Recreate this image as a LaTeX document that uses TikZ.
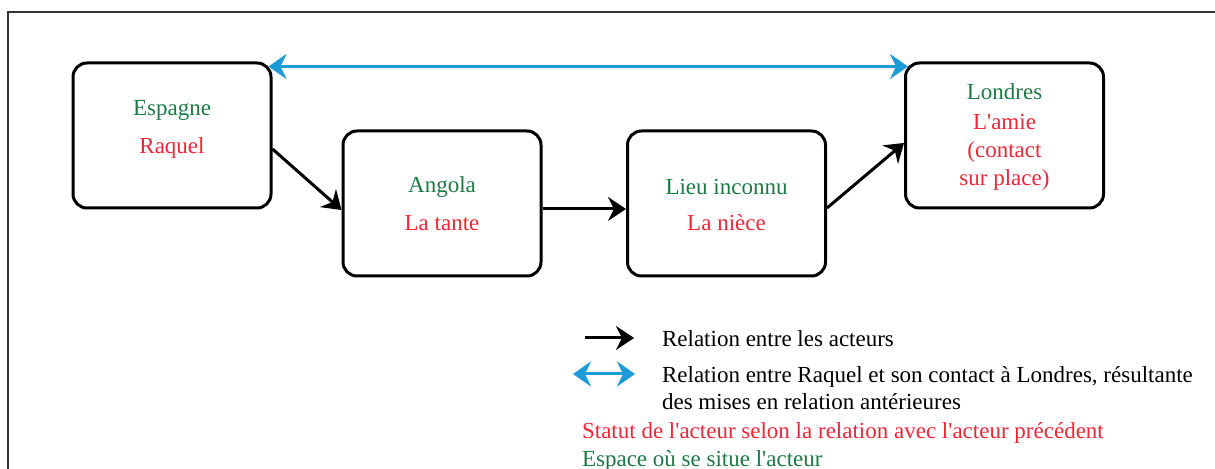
\documentclass[tikz,border=0pt]{standalone}
\usepackage{fontspec}
\setmainfont{Liberation Serif}
\usepackage{tikz}
\usetikzlibrary{arrows.meta}
\definecolor{placegreen}{HTML}{1B7A43}
\definecolor{rolered}{HTML}{EE2636}
\definecolor{linkblue}{HTML}{1B9BD7}
\definecolor{framegray}{HTML}{333333}

\tikzset{
  actorbox/.style={draw, line width=1.5pt, rounded corners=7pt,
    minimum width=99pt, minimum height=72.5pt, inner sep=0pt},
  place/.style={text=placegreen, font=\fontsize{11.5}{14}\selectfont},
  role/.style={text=rolered, font=\fontsize{11.5}{14}\selectfont, align=center},
  legendtext/.style={anchor=west, font=\fontsize{11.5}{13.5}\selectfont, align=left},
  rel/.style={line width=1.5pt, -{Stealth[length=9pt, width=12pt, inset=3pt]}},
  contact/.style={draw=linkblue, line width=1.5pt,
    {Stealth[length=9pt, width=12.5pt, inset=3pt]}-{Stealth[length=9pt, width=12.5pt, inset=3pt]}}
}
\newcommand{\q}{\textquotesingle}

\begin{document}
\begin{tikzpicture}[x=0.5pt, y=-0.5pt]
  \useasboundingbox (0,0) rectangle (1215,469);
  \draw[framegray, line width=0.8pt] (1240,12) -- (8,12) -- (8,490);

  % actors
  \node[actorbox] (esp) at (172,135.5) {};
  \node[actorbox] (ang) at (442,203.5) {};
  \node[actorbox] (lieu) at (726.5,203.5) {};
  \node[actorbox] (lon) at (1004.5,135.5) {};

  \node[place] (espP) at (172,110) {Espagne};
  \node[role] (espR) at (172,148) {Raquel};
  \node[place] (angP) at (442,187) {Angola};
  \node[role] (angR) at (442,223) {La tante};
  \node[place] (lieuP) at (726.5,187) {Lieu inconnu};
  \node[role] (lieuR) at (726.5,223) {La nièce};
  \node[place] (lonP) at (1004.5,92) {Londres};
  \node[role, anchor=north] (lonR) at (1004.5,107) {L\q amie\\(contact\\sur place)};

  % relations
  \draw[rel] ([yshift=-6.75pt]esp.east) -- ([yshift=-3.25pt]ang.west);
  \draw[rel] ([yshift=-2.75pt]ang.east) -- ([yshift=-2.75pt]lieu.west);
  \draw[rel] ([yshift=-2.25pt]lieu.east) -- ([yshift=-3.75pt]lon.west);
  \draw[contact] ([xshift=-2pt, yshift=-2.5pt]esp.north east) -- ([xshift=2pt, yshift=-2.5pt]lon.north west);

  % legend
  \coordinate (k1a) at (585,338);
  \coordinate (k1b) at (634,338);
  \coordinate (k2a) at (573,374);
  \coordinate (k2b) at (635,374);
  \draw[rel] (k1a) -- (k1b);
  \draw[contact] (k2a) -- (k2b);
  \node[legendtext] (leg1) at (655,339) {Relation entre les acteurs};
  \node[legendtext] (leg2) at (655,388) {Relation entre Raquel et son contact à Londres, résultante\\des mises en relation antérieures};
  \node[legendtext, text=rolered] (leg3) at (575,433) {Statut de l\q acteur selon la relation avec l\q acteur précédent};
  \node[legendtext, text=placegreen] (leg4) at (575,461) {Espace où se situe l\q acteur};
\end{tikzpicture}
\end{document}
